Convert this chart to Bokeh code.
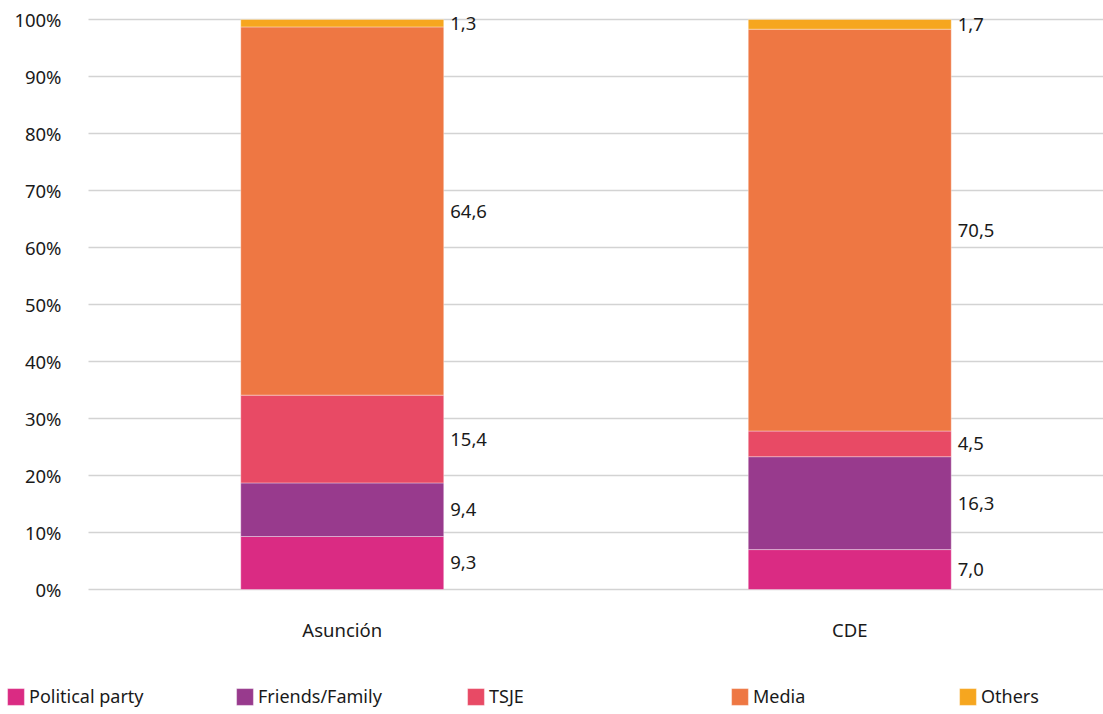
from bokeh.plotting import figure
from bokeh.models import (ColumnDataSource, FixedTicker, PrintfTickFormatter,
                          Range1d, Legend, LegendItem)
from bokeh.core.properties import value
from bokeh.embed import file_html
from bokeh.resources import INLINE

# --- data -------------------------------------------------------------
places = ["Asunción", "CDE"]
series = ["Political party", "Friends/Family", "TSJE", "Media", "Others"]
political_party = [9.3, 7.0]
friends_family = [9.4, 16.3]
tsje = [15.4, 4.5]
media = [64.6, 70.5]
others = [1.3, 1.7]
y_ticks = [0, 10, 20, 30, 40, 50, 60, 70, 80, 90, 100]

colors = ["#DA2B83", "#983A8D", "#E84A65", "#EE7743", "#F6A61F"]
FONT = "Noto Sans"
TEXT = "#1a1a1a"
W, H = 1103, 714

# plot geometry (pixels): the plotting band sits right of the y labels,
# with room under it for the category labels and the legend row
LEFT, ZERO_Y, TOP_Y = 88, 589, 19
px_per_cat = (W - LEFT) / len(places)
px_per_pct = (ZERO_Y - TOP_Y) / 100

stacks = [political_party, friends_family, tsje, media, others]
xpos = [i + 0.5 for i in range(len(places))]

p = figure(
    x_range=Range1d(-LEFT / px_per_cat, len(places)),
    y_range=Range1d(-(H - ZERO_Y) / px_per_pct, 100 + TOP_Y / px_per_pct),
    width=W, height=H, min_border=0,
    toolbar_location=None, output_backend="svg",
    outline_line_color=None,
)

# horizontal gridlines across the plotting band only
p.segment(x0=0, x1=len(places), y0=y_ticks, y1=y_ticks,
          line_color="#d3d3d3", line_width=1.3)

data = {"x": xpos}
for name, vals in zip(series, stacks):
    data[name] = vals
src = ColumnDataSource(data)
bars = p.vbar_stack(series, x="x", width=0.4, source=src, color=colors,
                    line_color="white", line_width=0.6, line_alpha=0.6)

# value labels beside each segment, vertically centred on it
lab_x, lab_y, lab_t = [], [], []
for i, xc in enumerate(xpos):
    base = 0.0
    for vals in stacks:
        v = vals[i]
        lab_x.append(xc)
        lab_y.append(base + v / 2)
        lab_t.append(f"{v:.1f}".replace(".", ","))
        base += v
p.text(x=lab_x, y=lab_y, text=lab_t, x_offset=108,
       text_align="left", text_baseline="middle",
       text_font=value(FONT), text_font_size="18.5px", text_color=TEXT)

# axes pinned to the plotting band
p.xaxis.fixed_location = 0
p.yaxis.fixed_location = 0
p.xaxis.ticker = FixedTicker(ticks=xpos)
p.xaxis.major_label_overrides = {x: name for x, name in zip(xpos, places)}
p.yaxis.ticker = FixedTicker(ticks=y_ticks)
p.yaxis.formatter = PrintfTickFormatter(format="%d%%")
p.grid.visible = False

for ax in (p.xaxis[0], p.yaxis[0]):
    ax.axis_line_color = None
    ax.major_tick_line_color = None
    ax.minor_tick_line_color = None
    ax.major_tick_in = 0
    ax.major_tick_out = 0
    ax.major_label_text_font = FONT
    ax.major_label_text_font_size = "18.5px"
    ax.major_label_text_color = TEXT
p.yaxis.major_label_standoff = 27
p.xaxis.major_label_standoff = 27

# --- legend: one entry per series, spread along the bottom -------------
leg_left = [5, 234, 465, 729, 957]
for name, r, left in zip(series, bars, leg_left):
    leg = Legend(
        items=[LegendItem(label=name, renderers=[r])],
        location=(left, 6),
        orientation="horizontal",
        padding=0, margin=0, spacing=0,
        glyph_width=21, glyph_height=21, label_standoff=3,
        label_text_font=FONT, label_text_font_size="18px",
        label_text_color=TEXT, label_text_baseline="middle",
        border_line_color=None, background_fill_alpha=0,
    )
    p.add_layout(leg, "center")

open("out.html", "w").write(file_html(p, INLINE))
